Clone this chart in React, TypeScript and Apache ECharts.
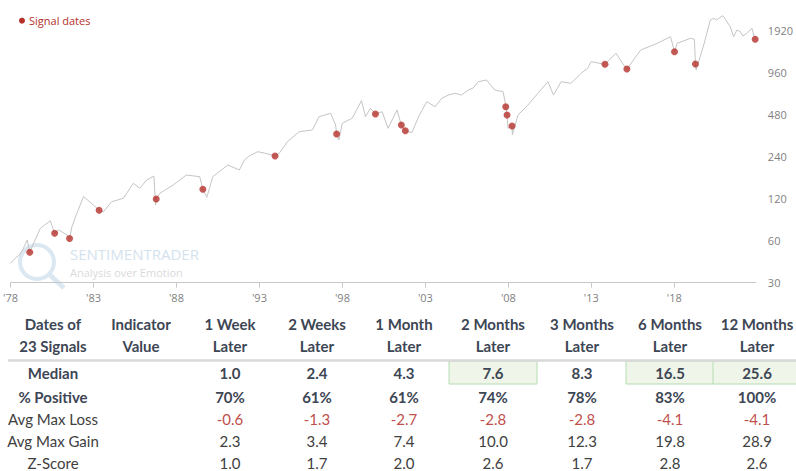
import React, { useEffect, useRef } from "react";
import * as echarts from "echarts";

// ---- Price line (index level, log scale) ----
const lineYears = [
  1978.0, 1978.31, 1978.5, 1978.73, 1979.01, 1979.16, 1979.4, 1979.8, 1980.4, 1980.66, 1980.9, 1981.41, 1981.56, 1981.7,
  1982.0, 1982.4, 1983.0, 1983.34, 1983.6, 1984.1, 1984.8, 1985.4, 1985.8, 1986.2, 1986.64, 1986.74,
  1986.78, 1987.0, 1987.8, 1988.2, 1988.6, 1989.4, 1989.59, 1989.83, 1990.19, 1991.09, 1991.79, 1992.09,
  1992.39, 1992.89, 1993.29, 1993.94, 1994.19, 1994.69, 1995.39, 1996.19, 1996.59, 1997.29, 1997.59, 1997.65, 1997.79,
  1997.99, 1998.59, 1999.15, 1999.39, 1999.69, 1999.99, 2000.39, 2000.75, 2001.29, 2001.55, 2001.79,
  2002.18, 2002.59, 2003.08, 2003.59, 2003.98, 2004.38, 2004.79, 2005.18, 2005.58, 2005.88, 2006.18, 2006.68, 2007.18, 2007.68,
  2007.78, 2007.84, 2007.92, 2007.98, 2008.22, 2008.24, 2008.58, 2009.18, 2009.78, 2010.38, 2010.72,
  2011.18, 2011.78, 2012.38, 2012.78, 2012.98, 2013.82, 2014.48, 2015.08, 2015.14, 2015.97, 2016.97,
  2017.77, 2018.01, 2018.17, 2018.97, 2019.21, 2019.27, 2019.31, 2019.77, 2020.17, 2020.37, 2020.54, 2020.91,
  2021.02, 2021.37, 2021.57, 2021.77, 2021.97, 2022.13, 2022.37, 2022.67, 2022.87,
];
const lineValues = [
  41.3, 45.1, 47, 51.5, 60.7, 49.6, 57.8, 73.6, 83.5, 67.8, 71.6, 65.9, 62.2, 75.6,
  94.3, 124, 108.2, 99.1, 96.8, 114.2, 120.8, 154.7, 142.5, 163.4, 174.5, 108.2,
  119.4, 131.2, 150.4, 163.4, 177.4, 172.5, 140.4, 122.8, 172.5, 209.3, 192.7, 227.3,
  242.8, 260.6, 255, 242.8, 253.9, 307.4, 362.5, 372.9, 464.4, 491.2, 405, 349, 316.2,
  416.4, 452.3, 604.8, 464.4, 533.4, 485.6, 504.4, 383.5, 518.7, 405, 368.6,
  356.6, 464.4, 594.8, 547.6, 629.2, 664, 683.4, 664, 721.6, 746, 827.6, 851, 721.6, 701.7,
  611.8, 547.6, 477.6, 383.5, 398.4, 343.4, 477.6, 563.4, 683.4, 827.6, 664.4,
  827.6, 806, 950.6, 1032, 1151, 1103, 1322, 1032, 1021, 1396, 1559,
  1739, 1358, 1559, 1694, 1666, 1108, 1004, 1516, 2291, 2356, 2291, 2459,
  2367, 2051, 1739, 1942, 1889, 1759, 1839, 1997, 1666,
];

// ---- Signal dates ----
const signalYears = [
  1979.16, 1980.66, 1981.56, 1983.34, 1986.78, 1989.59, 1993.94, 1997.65, 1999.99, 2001.55, 2001.79,
  2007.84, 2007.92, 2008.22, 2013.82, 2015.14, 2018.01, 2019.27, 2022.87,
];
const signalValues = [
  49.6, 67.8, 62.2, 99.1, 119.4, 140.4, 242.8, 349, 485.6, 405, 368.6,
  547.6, 477.6, 398.4, 1103, 1021, 1358, 1108, 1666,
];

// ---- Axes ----
const yBase = 30;
const yMaxValue = 2790;
const yTickLabels = [30, 60, 120, 240, 480, 960, 1920];
const xStartYear = 1978;
const xEndYear = 2022.91;
const xTickYears = [1978, 1983, 1988, 1993, 1998, 2003, 2008, 2013, 2018];

// ---- Table ----
const headerLine1 = ["Dates of", "Indicator", "1 Week", "2 Weeks", "1 Month", "2 Months", "3 Months", "6 Months", "12 Months"];
const headerLine2 = ["23 Signals", "Value", "Later", "Later", "Later", "Later", "Later", "Later", "Later"];
const rowLabels = ["Median", "% Positive", "Avg Max Loss", "Avg Max Gain", "Z-Score"];
const medianRow = ["1.0", "2.4", "4.3", "7.6", "8.3", "16.5", "25.6"];
const positiveRow = ["70%", "61%", "61%", "74%", "78%", "83%", "100%"];
const maxLossRow = ["-0.6", "-1.3", "-2.7", "-2.8", "-2.8", "-4.1", "-4.1"];
const maxGainRow = ["2.3", "3.4", "7.4", "10.0", "12.3", "19.8", "28.9"];
const zScoreRow = ["1.0", "1.7", "2.0", "2.6", "1.7", "2.8", "2.6"];
const highlightedMedianCols = [3, 5, 6];

const W = 796;
const H = 471;

function buildTable(): any[] {
  const colX = [53, 141, 230, 317, 404, 493, 582, 670, 757];
  const els: any[] = [];
  const tf = "Lato, 'Open Sans', sans-serif";
  const headColor = "#3D4654";
  highlightedMedianCols.forEach((c) => {
    const cx = colX[c + 2];
    els.push({
      type: "rect",
      shape: { x: cx - 44, y: 361, width: 88, height: 23 },
      style: { fill: "#EFF5E8", stroke: "#B4DDB2", lineWidth: 1 },
      z: 1,
    });
  });
  headerLine1.forEach((t, i) => {
    els.push({ type: "text", x: colX[i], y: 324, z: 5, style: { text: t, fill: headColor, font: `bold 15px ${tf}`, align: "center", verticalAlign: "middle" } });
    els.push({ type: "text", x: colX[i], y: 346, z: 5, style: { text: headerLine2[i], fill: headColor, font: `bold 15px ${tf}`, align: "center", verticalAlign: "middle" } });
  });
  els.push({ type: "line", shape: { x1: 8, y1: 360.5, x2: 796, y2: 360.5 }, style: { stroke: "#D9D9D9", lineWidth: 2.5 }, z: 3 });
  const rowY = [373, 396.5, 419, 441, 463];
  const rows = [medianRow, positiveRow, maxLossRow, maxGainRow, zScoreRow];
  rowLabels.forEach((lab, r) => {
    const bold = r < 2;
    els.push({ type: "text", x: colX[0], y: rowY[r], z: 5, style: { text: lab, fill: bold ? headColor : "#404040", font: `${bold ? "bold " : ""}15px ${tf}`, align: "center", verticalAlign: "middle" } });
    rows[r].forEach((v, j) => {
      els.push({
        type: "text", x: colX[j + 2], y: rowY[r], z: 5,
        style: { text: v, fill: r === 2 ? "#C0504D" : bold ? headColor : "#404040", font: `${bold ? "bold " : ""}15px ${tf}`, align: "center", verticalAlign: "middle" },
      });
    });
  });
  return els;
}

export default function App() {
  const ref = useRef<HTMLDivElement>(null);
  useEffect(() => {
    if (!ref.current) return;
    const chart = echarts.init(ref.current, undefined, { renderer: "svg" });
    const toX = (yr: number) => yr - xStartYear;
    const toY = (v: number) => Math.log2(v / yBase);
    const lineData = lineYears.map((yr, i) => [toX(yr), toY(lineValues[i])]);
    const sigData = signalYears.map((yr, i) => [toX(yr), toY(signalValues[i])]);
    const yMax = toY(yMaxValue);
    const gridBottom = 188.3;
    const pxPerUnit = 42;
    const gridTop = H - gridBottom - yMax * pxPerUnit;
    const axisFont = "'Open Sans', sans-serif";
    chart.setOption({
      animation: false,
      backgroundColor: "#ffffff",
      grid: { left: 10, right: 37, top: gridTop, bottom: gridBottom, containLabel: false },
      xAxis: {
        type: "value",
        min: 0,
        max: toX(xEndYear),
        interval: 5,
        axisLine: { show: true, lineStyle: { color: "#C8C8C8", width: 1 } },
        axisTick: { show: true, length: 5, lineStyle: { color: "#C8C8C8" }, customValues: xTickYears.map(toX) },
        axisLabel: {
          customValues: xTickYears.map(toX),
          formatter: (v: number) => "'" + String(Math.round(v + xStartYear)).slice(2),
          color: "#7F7F7F", fontSize: 11, fontFamily: axisFont, margin: 9,
        },
        splitLine: { show: false },
      },
      yAxis: {
        type: "value",
        position: "right",
        min: 0,
        max: yMax,
        interval: 1,
        axisLine: { show: false },
        axisTick: { show: false },
        splitLine: { show: false },
        axisLabel: {
          customValues: yTickLabels.map(toY),
          formatter: (v: number) => String(Math.round(yBase * Math.pow(2, v))),
          color: "#7F7F7F", fontSize: 11, fontFamily: axisFont, margin: 12,
        },
      },
      series: [
        {
          type: "line",
          data: lineData,
          showSymbol: false,
          lineStyle: { color: "#C4C4C4", width: 1 },
          z: 2,
        },
        {
          type: "scatter",
          data: sigData,
          symbolSize: 7,
          itemStyle: { color: "#B5312A" },
          z: 3,
        },
      ],
      graphic: [
        // watermark
        { type: "ring", shape: { cx: 37, cy: 262, r: 19, r0: 15 }, style: { fill: "#DCE8F1" }, z: 0 },
        { type: "line", shape: { x1: 50, y1: 275, x2: 64, y2: 288 }, style: { stroke: "#DCE8F1", lineWidth: 5 }, z: 0 },
        { type: "text", x: 70, y: 254, z: 0, style: { text: "SENTIMENTRADER", fill: "#D3E2EE", font: "15px 'Open Sans', sans-serif", verticalAlign: "middle" } },
        { type: "text", x: 70, y: 272, z: 0, style: { text: "Analysis over Emotion", fill: "#DADADA", font: "11px 'Open Sans', sans-serif", verticalAlign: "middle" } },
        // legend
        { type: "circle", shape: { cx: 22, cy: 20.7, r: 3 }, style: { fill: "#B5312A" }, z: 10 },
        { type: "text", x: 29, y: 20.7, z: 10, style: { text: "Signal dates", fill: "#B5312A", font: "11px 'Open Sans', sans-serif", verticalAlign: "middle" } },
        ...buildTable(),
      ],
    });
    return () => chart.dispose();
  }, []);
  return <div ref={ref} style={{ position: "fixed", left: 0, top: 0, width: W, height: H, background: "#fff" }} />;
}
